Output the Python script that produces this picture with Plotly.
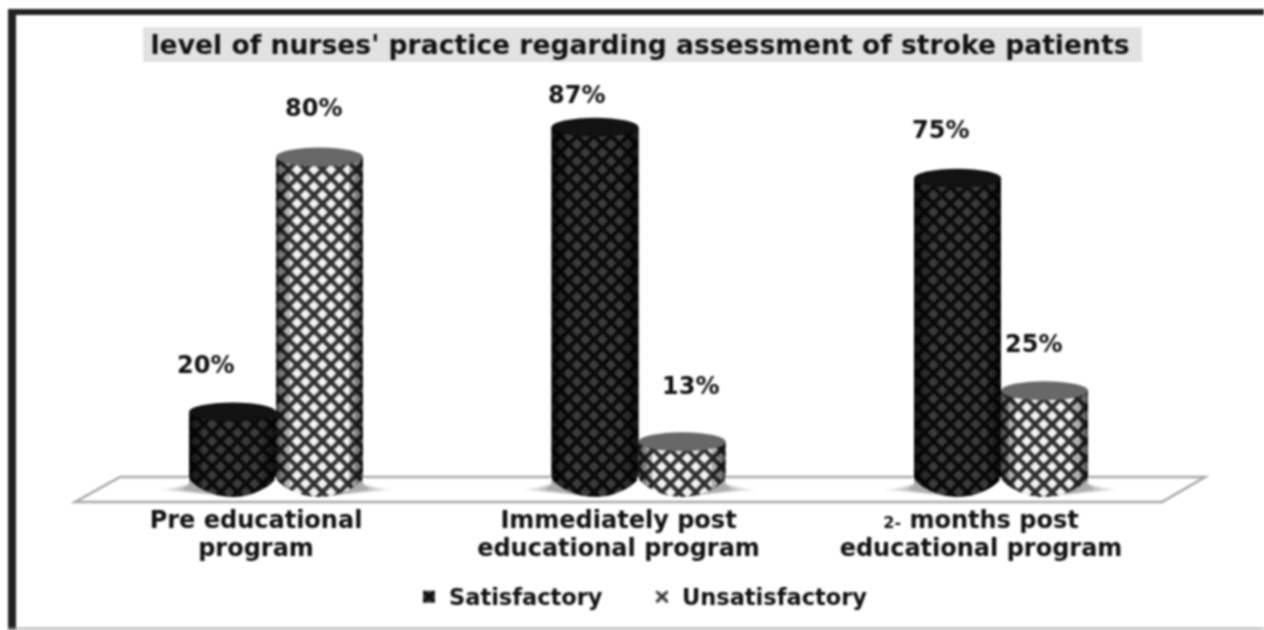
import plotly.graph_objects as go

# ---- data ----
category_line1 = ["Pre educational", "Immediately post",
                  '<span style="font-size:16px">2-</span> months post']
category_line2 = ["program", "educational program", "educational program"]
satisfactory = [20, 87, 75]
unsatisfactory = [80, 13, 25]
title_text = "level of nurses' practice regarding assessment of stroke patients"

# ---- label nudges in pixels (x, y) ----
sat_dx, sat_dy = [-27, -19, -17], [47, 32, 48]
uns_dx, uns_dy = [-6, 8, -11], [49, 56, 47]

# ---- geometry ----
W, H = 1264, 630
PX_X = 362.5          # px per category
PX_Y = 4.25           # px per percent
X0_PX = 276           # px of first category
Y0_PX = 497           # px of value 0
PLOT_BOTTOM = 506
HW = 0.12             # half a bar, category units
EH = 10 / PX_Y        # foot ellipse half height, value units
TH = 9.5 / PX_Y       # top cap half height
OFFS = (-HW, HW)

def fx(px): return (px - X0_PX) / PX_X
def fy(px): return (Y0_PX - px) / PX_Y
def py(px): return 1 - px / H

FONT = "DejaVu Sans"
xs = list(range(len(category_line1)))
series = [
    ("Satisfactory", satisfactory, "#3c3c3c", "#0a0a0a", 0.58),
    ("Unsatisfactory", unsatisfactory, "#f4f4f4", "#2e2e2e", 0.58),
]

fig = go.Figure()
for name, vals, bg, fg, sol in series:
    fig.add_bar(name=name, x=xs, y=vals,
                marker=dict(color=bg, line=dict(width=0),
                            pattern=dict(shape="x", bgcolor=bg, fgcolor=fg,
                                         size=12, solidity=sol, fillmode="replace")),
                hovertemplate=name + ": %{y}%<extra></extra>")
# carrier for the axis that holds the second line of the category labels
fig.add_scatter(x=xs, y=satisfactory, xaxis="x2", mode="markers", marker=dict(opacity=0),
                showlegend=False, hoverinfo="skip")

shapes = []
# frame
shapes.append(dict(type="line", xref="paper", yref="paper", x0=0.0095, x1=0.0095,
                   y0=py(630), y1=py(9), line=dict(color="#222222", width=8), layer="below"))
shapes.append(dict(type="line", xref="paper", yref="paper", x0=8 / W, x1=1,
                   y0=py(12), y1=py(12), line=dict(color="#222222", width=6), layer="below"))
shapes.append(dict(type="line", xref="paper", yref="paper", x0=8 / W, x1=1,
                   y0=py(628.5), y1=py(628.5), line=dict(color="#999999", width=1.5), layer="below"))
# title band
shapes.append(dict(type="rect", xref="paper", yref="paper", x0=143 / W, x1=1142 / W,
                   y0=py(62), y1=py(27), fillcolor="#e2e2e2", line=dict(width=0), layer="below"))
# floor
floor = [(75, 502), (120, 477), (1205, 477), (1162, 502)]
path = "M " + " L ".join(f"{fx(a):.4f},{fy(b):.3f}" for a, b in floor) + " Z"
shapes.append(dict(type="path", path=path, fillcolor="white",
                   line=dict(color="#a8a8a8", width=2.5), layer="below"))

k = 0.55
D = 0.004
for (name, vals, bg, fg, sol), off in zip(series, OFFS):
    is_dark = name == "Satisfactory"
    top_col = "#121212" if is_dark else "#686868"
    for i, v in zip(xs, vals):
        c = i + off
        for frac, op in ((0.16, 0.28), (0.09, 0.30), (0.04, 0.30)):
            w = HW * 2 * frac
            for a, b in ((c - HW, c - HW + w), (c + HW - w, c + HW)):
                shapes.append(dict(type="rect", x0=a, x1=b, y0=0, y1=v,
                                   fillcolor="#000000", opacity=op, line=dict(width=0), layer="above"))
        shapes.append(dict(type="circle", x0=c - HW, x1=c + HW, y0=v - TH, y1=v + TH,
                           fillcolor=top_col, line=dict(width=0), layer="above"))
        l, r = c - HW, c + HW
        foot = (f"M {l-D:.4f},{2*EH:.3f} L {l:.4f},{2*EH:.3f} "
                f"C {l:.4f},{2*EH - EH*k:.3f} {c - HW*k:.4f},0 {c:.4f},0 "
                f"C {c + HW*k:.4f},0 {r:.4f},{2*EH - EH*k:.3f} {r:.4f},{2*EH:.3f} "
                f"L {r+D:.4f},{2*EH:.3f} L {r+D:.4f},-0.12 L {l-D:.4f},-0.12 Z")
        shapes.append(dict(type="path", path=foot, fillcolor="white", line=dict(width=0), layer="above"))

# floor shadow wedges hugging the outer side of each pair
for i in xs:
    for side in (-1, 1):
        c = i + side * HW
        edge = c + side * HW
        for reach, op in ((30, 0.10), (22, 0.14), (13, 0.20), (6, 0.25)):
            tip = edge + side * reach / PX_X
            wedge = (f"M {tip:.4f},{fy(490):.3f} L {edge:.4f},{fy(484):.3f} L {edge:.4f},{2*EH:.3f} "
                     f"C {edge:.4f},{2*EH - EH*k:.3f} {c + side*HW*k:.4f},0 {c:.4f},0 Z")
            shapes.append(dict(type="path", path=wedge, fillcolor="#666666", opacity=op,
                               line=dict(width=0), layer="above"))

annotations = []
for vals, off, dxs, dys in ((satisfactory, OFFS[0], sat_dx, sat_dy),
                            (unsatisfactory, OFFS[1], uns_dx, uns_dy)):
    for i, v, dx, dy in zip(xs, vals, dxs, dys):
        annotations.append(dict(x=i + off, y=v, text=f"{v}%", showarrow=False,
                                xshift=dx, yshift=dy, xanchor="center", yanchor="middle",
                                font=dict(family=FONT, size=24, color="#111111", weight=700)))

TICK_FONT = dict(family=FONT, size=24, color="#111111", weight=700)
tickvals = [i - 20 / PX_X for i in xs]
rng = [fx(0), fx(W)]
fig.update_layout(
    width=W, height=H, autosize=False,
    margin=dict(l=0, r=0, t=0, b=0),
    paper_bgcolor="white", plot_bgcolor="rgba(0,0,0,0)",
    barmode="group", bargap=1 - 4 * HW, bargroupgap=0,
    showlegend=True,
    title=dict(text=title_text, x=640 / W, xanchor="center", y=py(45), yanchor="middle",
               xref="paper", yref="paper",
               font=dict(family=FONT, size=26.6, color="#111111", weight=700)),
    legend=dict(orientation="h", x=409 / W, xanchor="left", y=py(597), yanchor="middle",
                bgcolor="rgba(0,0,0,0)", font=dict(family=FONT, size=22.5, color="#111111", weight=700),
                itemwidth=30, traceorder="normal", entrywidth=188, entrywidthmode="pixels"),
    xaxis=dict(range=rng, domain=[0, 1], tickmode="array",
               tickvals=tickvals, ticktext=category_line1,
               showgrid=False, zeroline=False, showline=False, ticks="", ticklabelstandoff=-3,
               automargin=False, tickfont=TICK_FONT),
    xaxis2=dict(range=rng, domain=[0, 1], overlaying="x", anchor="y", side="bottom",
                tickmode="array", tickvals=tickvals, ticktext=category_line2,
                showgrid=False, zeroline=False, showline=False, ticks="", ticklabelstandoff=25,
                automargin=False, tickfont=TICK_FONT),
    yaxis=dict(range=[fy(PLOT_BOTTOM), fy(0)], domain=[py(PLOT_BOTTOM), 1], visible=False),
    shapes=shapes, annotations=annotations,
)

fig.write_html("out.html", config={"displayModeBar": False},
               post_script="document.body.style.margin='0';document.body.style.overflow='hidden';"
                           "document.querySelector('.plotly-graph-div').style.filter='blur(0.8px)';")
